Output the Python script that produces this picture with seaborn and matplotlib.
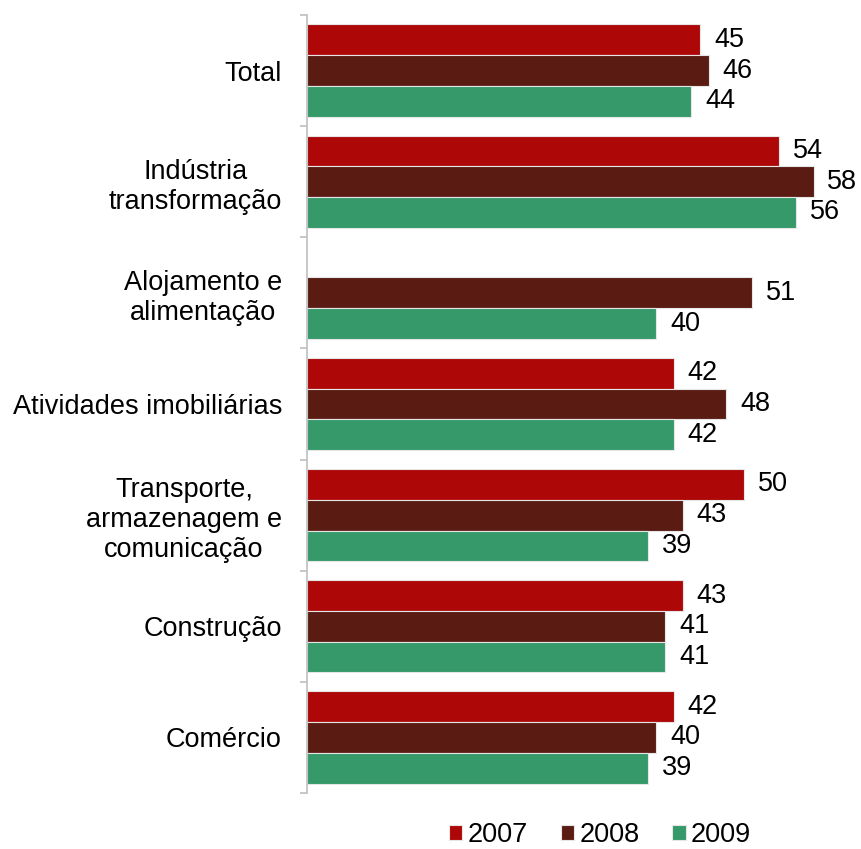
import numpy as np
import pandas as pd
import matplotlib
matplotlib.use("Agg")
import matplotlib.pyplot as plt
import seaborn as sns

sectors = [
    "Total",
    "Indústria\ntransformação",
    "Alojamento e\nalimentação",
    "Atividades imobiliárias",
    "Transporte,\narmazenagem e\ncomunicação",
    "Construção",
    "Comércio",
]
years = ["2007", "2008", "2009"]
values_2007 = [45, 54, np.nan, 42, 50, 43, 42]
values_2008 = [46, 58, 51, 48, 43, 41, 40]
values_2009 = [44, 56, 40, 42, 39, 41, 39]
colors = ["#AD0707", "#5A1B12", "#35996A"]

df = pd.DataFrame({
    "setor": sectors * 3,
    "ano": [y for y in years for _ in sectors],
    "valor": values_2007 + values_2008 + values_2009,
})

sns.set_theme(style="white")
plt.rcParams["font.family"] = ["Liberation Sans", "DejaVu Sans"]
plt.rcParams["text.color"] = "black"
plt.rcParams["ytick.color"] = "black"
plt.rcParams["ytick.labelcolor"] = "black"

FS = 19.5

fig = plt.figure(figsize=(8.62, 8.49), dpi=100)
ax = fig.add_axes([307 / 862, 1 - 793 / 849, 545 / 862, (793 - 15) / 849])

sns.barplot(
    data=df, y="setor", x="valor", hue="ano", order=sectors, hue_order=years,
    palette=colors, orient="h", width=0.83, ax=ax,
    edgecolor="#e6e6e6", linewidth=0.8, saturation=1, legend=True,
)

for cont in ax.containers:
    labels = ["" if np.isnan(v) else f"{v:.0f}" for v in cont.datavalues]
    ax.bar_label(cont, labels=labels, padding=10, fontsize=FS, color="black")

ax.set_xlim(0, 62.4)
ax.set_ylim(len(sectors) - 0.5, -0.5)
ax.set_xlabel("")
ax.set_ylabel("")
ax.set_xticks([])

for side in ["top", "right", "bottom"]:
    ax.spines[side].set_visible(False)
ax.spines["left"].set_color("#BFBFBF")
ax.spines["left"].set_linewidth(1.2)

ax.set_yticks(range(len(sectors)))
ax.set_yticklabels(sectors, fontsize=FS, multialignment="center", color="black")
ax.tick_params(axis="y", which="major", length=0, pad=18)
ax.set_yticks(np.arange(-0.5, len(sectors), 1.0), minor=True)
ax.tick_params(axis="y", which="minor", length=5, width=1.2, color="#BFBFBF", left=True)

handles, labs = ax.get_legend_handles_labels()
ax.legend_.remove()
fig.legend(
    handles, labs, loc="center", bbox_to_anchor=(600 / 862, 1 - 835 / 849),
    ncol=3, frameon=False, fontsize=FS, handlelength=0.5, handleheight=0.5,
    handletextpad=0.2, columnspacing=1.2,
)

fig.savefig("out.png", dpi=100)
